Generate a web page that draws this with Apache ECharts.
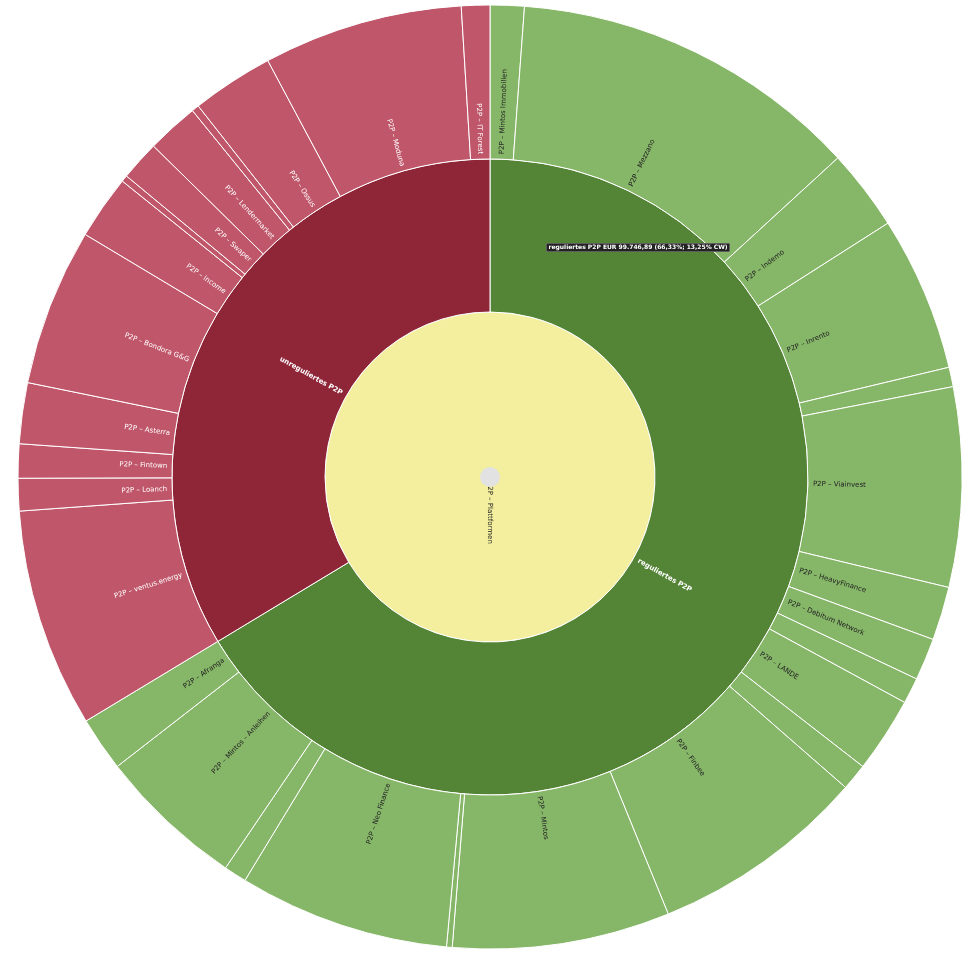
<!DOCTYPE html>
<html><head><meta charset="utf-8">
<script src="https://cdn.jsdelivr.net/npm/echarts@6/dist/echarts.min.js"></script>
<style>html,body{margin:0;padding:0;background:#fff}#c{width:975px;height:956px}</style>
</head><body><div id="c"></div>
<script>
const rootName = 'P2P – Plattformen';
const groupNames = ['reguliertes P2P', 'unreguliertes P2P'];
const regNames = ['P2P – Mintos Immobilien','P2P – Mezzano','P2P – Indemo','P2P – Inrento','P2P – Bulkestate','P2P – Viainvest','P2P – HeavyFinance','P2P – Debitum Network','P2P – Crowdestor','P2P – LANDE','P2P – Profitus','P2P – Finbee','P2P – Mintos','P2P – Robocash','P2P – Neo Finance','P2P – Esketit','P2P – Mintos – Anleihen','P2P – Afranga'];
const regValues = [1754,18086,4177,7978,1002,10275,2757,2172,1337,3885,1378,11153,11194,292,10860,1170,7560,2799];
const unregNames = ['P2P – ventus.energy','P2P – Loanch','P2P – Fintown','P2P – Asterra','P2P – Bondora G&G','P2P – Income','P2P – Twino','P2P – Swaper','P2P – Lendermarket','P2P – Peerberry','P2P – Ossus','P2P – Moduna','P2P – IT Forest'];
const unregValues = [11278,1671,1754,3133,8103,3300,334,2047,2673,376,4219,10275,1462];
const tipText = 'reguliertes P2P EUR 99.746,89 (66,33%; 13,25% CW)';

const light = {fontSize:7, color:'#fff', fontFamily:'DejaVu Sans'};
const dark = {fontSize:7, color:'#222', fontFamily:'DejaVu Sans'};
const data = [{
  name: rootName,
  itemStyle:{color:'#f3ef9e'},
  label:{...dark, rotate:'radial', align:'left'},
  children:[
    {name:groupNames[0], itemStyle:{color:'#548435'}, label:{...light, fontWeight:'bold'},
     children: regNames.map((n,i)=>({name:n, value:regValues[i], itemStyle:{color:'#86b668'}, label:dark}))},
    {name:groupNames[1], itemStyle:{color:'#8e2638'}, label:{...light, fontWeight:'bold'},
     children: unregNames.map((n,i)=>({name:n, value:unregValues[i], itemStyle:{color:'#c0566a'}, label:light}))}
  ]
}];
const chart = echarts.init(document.getElementById('c'));
chart.setOption({
  animation:false,
  series:[{
    type:'sunburst',
    center:[490,477],
    sort:null,
    startAngle:90,
    nodeClick:false,
    emphasis:{focus:'none'},
    data:data,
    itemStyle:{borderColor:'#fff', borderWidth:1},
    label:{rotate:'radial', align:'left', minAngle:3.4, fontSize:7},
    levels:[
      {},
      {r0:0, r:165},
      {r0:165, r:318, label:{align:'left'}},
      {r0:318, r:472, label:{align:'left'}}
    ]
  }],
  graphic:[
    {type:'circle', shape:{cx:490, cy:477, r:10}, style:{fill:'#e2e2e2'}, z:100},
    {type:'text', left:546, top:243, z:100, style:{text:tipText, fill:'#fff', font:'bold 6px DejaVu Sans', backgroundColor:'#222', padding:[1,2], borderColor:'#999', borderWidth:0.5}}
  ]
});
</script></body></html>
